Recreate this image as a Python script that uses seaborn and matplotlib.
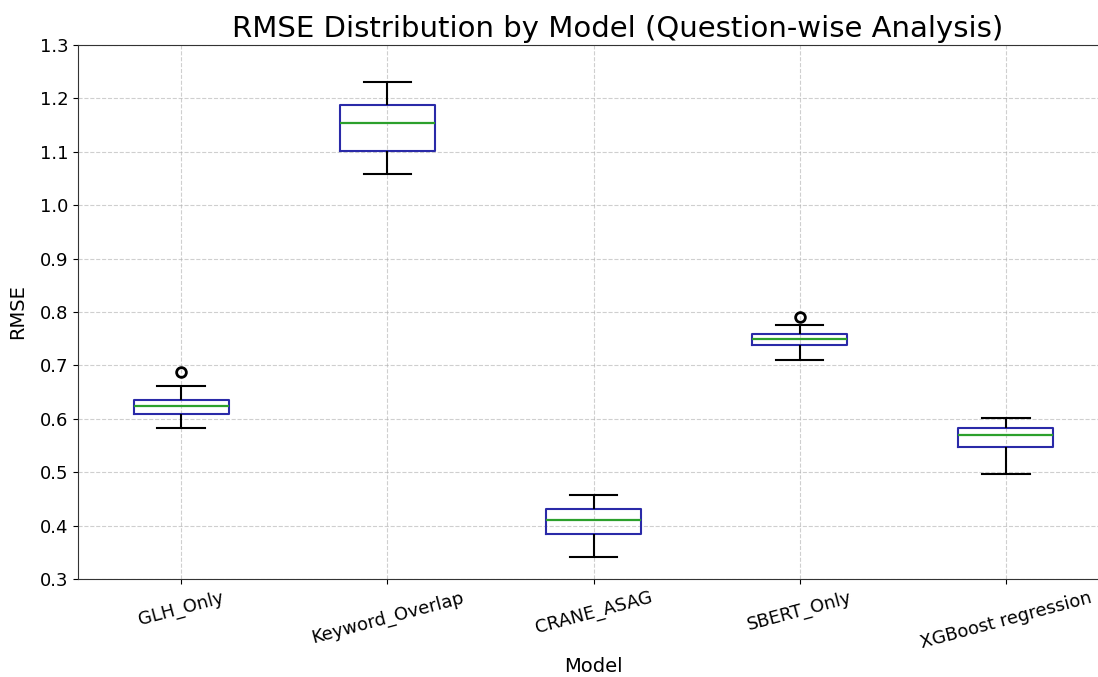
import matplotlib
matplotlib.use("Agg")
import matplotlib.pyplot as plt
import seaborn as sns
import pandas as pd

models = ["GLH_Only", "Keyword_Overlap", "CRANE_ASAG", "SBERT_Only", "XGBoost regression"]

glh_only = [0.583, 0.598, 0.609, 0.617, 0.624, 0.630, 0.635, 0.662, 0.688]
keyword_overlap = [1.059, 1.080, 1.102, 1.130, 1.153, 1.170, 1.187, 1.210, 1.230]
crane_asag = [0.342, 0.365, 0.385, 0.398, 0.410, 0.421, 0.432, 0.446, 0.458]
sbert_only = [0.710, 0.726, 0.738, 0.744, 0.749, 0.753, 0.758, 0.776, 0.790]
xgboost_reg = [0.496, 0.530, 0.547, 0.560, 0.570, 0.577, 0.583, 0.592, 0.601]

series = [glh_only, keyword_overlap, crane_asag, sbert_only, xgboost_reg]
rows = []
for name, vals in zip(models, series):
    for v in vals:
        rows.append({"Model": name, "RMSE": v})
df = pd.DataFrame(rows)

blue = "#2a2aa8"
green = "#2ca02c"

fig = plt.figure(figsize=(10.98, 6.77), dpi=100)
ax = fig.add_axes([78 / 1098, (677 - 579) / 677, (1109 - 78) / 1098, (579 - 45) / 677])

sns.boxplot(
    data=df, x="Model", y="RMSE", order=models, ax=ax,
    fill=False, width=0.46, whis=1.5, linewidth=1.5,
    boxprops={"color": blue},
    whiskerprops={"color": "black"},
    capprops={"color": "black"},
    medianprops={"color": green, "linewidth": 1.6},
    flierprops={"marker": "o", "markeredgecolor": "black", "markerfacecolor": "none",
                "markersize": 7, "markeredgewidth": 2.0},
)

ax.set_ylim(0.3, 1.3)
ax.set_xlim(-0.5, len(models) - 0.5)
ax.set_yticks([0.3, 0.4, 0.5, 0.6, 0.7, 0.8, 0.9, 1.0, 1.1, 1.2, 1.3])
ax.grid(True, linestyle="--", color="#b0b0b0", alpha=0.6, linewidth=0.8)
ax.set_axisbelow(True)
for s in ax.spines.values():
    s.set_visible(True)
    s.set_color("#333333")

ax.tick_params(axis="both", labelsize=13)
plt.setp(ax.get_xticklabels(), rotation=15, ha="center")
ax.set_xlabel("Model", fontsize=14)
ax.set_ylabel("RMSE", fontsize=14, labelpad=9)
ax.set_title("RMSE Distribution by Model (Question-wise Analysis)", fontsize=21, x=0.523, pad=6)

fig.savefig("out.png", dpi=100)
